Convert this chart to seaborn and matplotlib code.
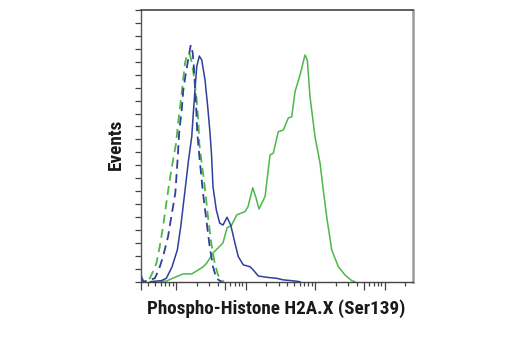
import numpy as np
import pandas as pd
import matplotlib
matplotlib.use("Agg")
import matplotlib.pyplot as plt
import seaborn as sns

# ---- data: log10 fluorescence intensity and event counts ----
blue_solid_log = [1.626, 1.788, 1.860, 1.942, 2.019, 2.068, 2.125, 2.180, 2.226, 2.249,
                  2.273, 2.298, 2.335, 2.370, 2.417, 2.456, 2.489, 2.511, 2.532, 2.580,
                  2.629, 2.676, 2.734, 2.787, 2.849, 2.896, 2.968, 3.065, 3.112, 3.184,
                  3.305, 3.449, 3.544, 3.665, 3.784]
blue_solid_cnt = [0.0, 0.4, 1.3, 5.7, 12.3, 21.3, 34.3, 47.0, 56.0, 65.2,
                  74.1, 83.1, 87.2, 85.7, 78.0, 67.6, 57.5, 49.0, 36.7, 27.7,
                  22.6, 21.9, 24.9, 21.9, 14.8, 9.7, 6.5, 5.8, 4.5, 2.2,
                  1.7, 1.3, 0.7, 0.4, 0.0]

blue_dash_log = [1.496, 1.532, 1.622, 1.694, 1.751, 1.813, 1.885, 1.932, 1.990, 2.022,
                 2.047, 2.082, 2.105, 2.144, 2.212, 2.240, 2.259, 2.273, 2.288, 2.306,
                 2.335, 2.388, 2.436, 2.485, 2.532, 2.580, 2.629, 2.662]
blue_dash_cnt = [2.0, 0.0, 0.7, 1.3, 4.5, 9.7, 17.4, 25.1, 34.3, 47.0,
                 58.3, 66.4, 74.1, 81.1, 91.5, 88.4, 82.2, 75.3, 68.3, 57.5,
                 48.6, 34.3, 23.9, 13.5, 5.8, 1.3, 0.4, 0.0]

green_dash_log = [1.496, 1.525, 1.583, 1.622, 1.669, 1.717, 1.765, 1.813, 1.860, 1.909,
                  1.957, 2.000, 2.033, 2.068, 2.105, 2.129, 2.154, 2.177, 2.201, 2.226,
                  2.266, 2.298, 2.321, 2.335, 2.364, 2.413, 2.460, 2.508, 2.557, 2.604,
                  2.652, 2.691]
green_dash_cnt = [2.6, 0.0, 0.0, 1.3, 3.9, 7.1, 13.5, 21.3, 30.3, 39.3,
                  47.0, 53.4, 61.9, 69.8, 78.5, 84.5, 87.0, 88.4, 87.6, 84.9,
                  78.0, 69.7, 61.9, 53.4, 47.0, 36.7, 25.1, 14.8, 7.1, 2.6,
                  0.7, 0.0]

green_solid_log = [1.770, 1.866, 1.957, 2.029, 2.101, 2.226, 2.317, 2.388, 2.442, 2.489,
                   2.532, 2.604, 2.676, 2.734, 2.801, 2.873, 2.993, 3.036, 3.104, 3.151,
                   3.194, 3.281, 3.353, 3.400, 3.472, 3.544, 3.616, 3.665, 3.712, 3.784,
                   3.856, 3.889, 3.928, 4.000, 4.072, 4.119, 4.168, 4.240, 4.335, 4.432,
                   4.528, 4.576]
green_solid_cnt = [0.0, 0.3, 1.4, 2.2, 3.0, 3.0, 4.5, 5.7, 7.2, 9.2,
                   11.1, 13.0, 15.0, 20.8, 21.9, 25.8, 27.1, 29.0, 36.3, 32.4,
                   28.1, 32.9, 49.0, 49.7, 58.0, 58.6, 63.3, 63.7, 73.4, 79.9,
                   87.6, 85.7, 71.5, 56.0, 45.9, 35.4, 25.1, 12.3, 5.8, 2.6,
                   0.4, 0.0]

x_label = "Phospho-Histone H2A.X (Ser139)"
y_label = "Events"

BLUE = "#2F3F9C"
GREEN = "#4DB848"

sns.set_theme(style="white")
plt.rcParams["font.family"] = ["Roboto Condensed", "DejaVu Sans"]

fig = plt.figure(figsize=(5.2, 3.5), dpi=100)
ax = fig.add_axes([141 / 520, 1 - 281.7 / 350, 272 / 520, 271.7 / 350])

def series(logs, cnts):
    return pd.DataFrame({"intensity": np.power(10.0, logs), "events": cnts})

dash = (0, (5.0, 3.0))
sns.lineplot(data=series(green_solid_log, green_solid_cnt), x="intensity", y="events",
             sort=False, ax=ax, color=GREEN, lw=1.1, estimator=None)
sns.lineplot(data=series(blue_solid_log, blue_solid_cnt), x="intensity", y="events",
             sort=False, ax=ax, color=BLUE, lw=1.1, estimator=None)
sns.lineplot(data=series(green_dash_log, green_dash_cnt), x="intensity", y="events",
             sort=False, ax=ax, color=GREEN, lw=1.3, linestyle=dash, estimator=None)
sns.lineplot(data=series(blue_dash_log, blue_dash_cnt), x="intensity", y="events",
             sort=False, ax=ax, color=BLUE, lw=1.3, linestyle=dash, estimator=None)

ax.set_xscale("log")
xmin, xmax = 10 ** 1.496, 10 ** 5.41
ax.set_xlim(xmin, xmax)
ax.set_ylim(0, 105)

ax.xaxis.set_ticks_position("bottom")
ax.yaxis.set_ticks_position("left")
major_x = [xmin, 100, 500, 1000, 10000, 50000, 100000]
minor_x = [k * 10 ** d for d in range(1, 6) for k in range(2, 10)
           if xmin < k * 10 ** d < xmax and k * 10 ** d not in major_x]
ax.set_xticks(major_x)
ax.set_xticks(minor_x, minor=True)
ax.set_yticks(np.arange(0, 106, 5))
ax.set_yticks([], minor=True)
ax.tick_params(axis="both", which="both", direction="out", color="#444444",
               labelbottom=False, labelleft=False, width=0.9)
ax.tick_params(axis="x", which="major", length=5.5)
ax.tick_params(axis="x", which="minor", length=3)
ax.tick_params(axis="y", which="major", length=4.5)

for side, col, lw in [("top", "#444444", 1.2), ("left", "#555555", 1.0),
                      ("bottom", "#444444", 1.0), ("right", "#9a9a9a", 1.8)]:
    ax.spines[side].set_visible(True)
    ax.spines[side].set_color(col)
    ax.spines[side].set_linewidth(lw)

ax.set_xlabel(x_label, fontsize=13.8, fontweight="bold", color="#1a1a1a", va="center")
ax.set_ylabel(y_label, fontsize=13.8, fontweight="bold", color="#1a1a1a", va="center")
ax.xaxis.set_label_coords(0.498, -0.1)
ax.yaxis.set_label_coords(-0.092, 0.505)

fig.savefig("out.png", dpi=100, facecolor="white")
